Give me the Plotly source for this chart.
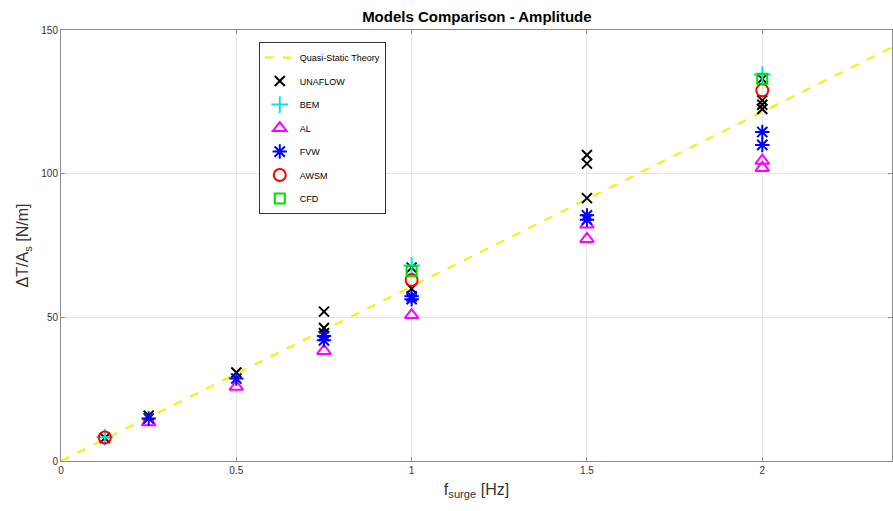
import plotly.graph_objects as go

# Quasi-static theory line endpoints
qs_f = [0.0, 2.37]
qs_val = [0.0, 144.0]

unaflow_f = [0.125, 0.25, 0.5, 0.75, 0.75, 0.75, 1.0, 1.0, 1.5, 1.5, 1.5, 2.0, 2.0, 2.0, 2.0]
unaflow_v = [8.0, 15.8, 30.8, 52.0, 46.3, 44.5, 67.3, 60.0, 106.5, 103.5, 91.5, 133.0, 125.5, 124.0, 122.5]

bem_f = [0.125, 1.0, 2.0]
bem_v = [8.3, 68.0, 134.5]

al_f = [0.25, 0.5, 0.75, 1.0, 1.5, 1.5, 2.0, 2.0]
al_v = [13.5, 25.8, 38.3, 50.8, 82.3, 77.3, 104.5, 102.0]

fvw_f = [0.25, 0.5, 0.75, 0.75, 1.0, 1.0, 1.5, 1.5, 2.0, 2.0]
fvw_v = [14.8, 28.7, 43.5, 42.0, 57.3, 56.3, 85.5, 84.0, 114.5, 110.0]

awsm_f = [0.125, 1.0, 2.0]
awsm_v = [8.2, 63.0, 129.0]

cfd_f = [1.0, 2.0]
cfd_v = [66.0, 133.0]

fig = go.Figure()
fig.add_trace(go.Scatter(x=qs_f, y=qs_val, mode="lines", name="Quasi-Static Theory",
                         line=dict(color="#F2F200", width=2, dash="dash"), legendgroup="a"))
marker_specs = [
    ("UNAFLOW", unaflow_f, unaflow_v, "x-thin-open", "#000000", 10),
    ("BEM", bem_f, bem_v, "cross-thin-open", "#00E5E5", 12),
    ("AL", al_f, al_v, "triangle-up-open", "#FF00FF", 12),
    ("FVW", fvw_f, fvw_v, "asterisk-open", "#0000FF", 12),
    ("AWSM", awsm_f, awsm_v, "circle-open", "#FF0000", 12),
    ("CFD", cfd_f, cfd_v, "square-open", "#00DD00", 10),
]
for i, (name, xs, ys, sym, col, sz) in enumerate(marker_specs):
    fig.add_trace(go.Scatter(x=xs, y=ys, mode="markers", name=name, legendgroup="g%d" % i,
                             marker=dict(symbol=sym, size=sz, color=col,
                                         line=dict(color=col, width=2))))

axis_common = dict(showline=True, linecolor="#8c8c8c", linewidth=1, mirror="ticks",
                   ticks="inside", ticklen=4, tickcolor="#8c8c8c",
                   showgrid=True, gridcolor="#e6e6e6", gridwidth=1, zeroline=False,
                   tickfont=dict(family="Liberation Sans, Arial", size=10, color="#333333"))

fig.update_layout(
    width=893, height=511,
    margin=dict(l=61, r=1, t=30, b=50),
    paper_bgcolor="white", plot_bgcolor="white",
    title=dict(text="<b>Models Comparison - Amplitude</b>", x=0.534, xanchor="center",
               y=0.977, yanchor="top",
               font=dict(family="Liberation Sans, Arial", size=15, color="#000000")),
    xaxis=dict(range=[0, 2.37], tickvals=[0, 0.5, 1, 1.5, 2], ticktext=["0", "0.5", "1", "1.5", "2"],
               title=dict(text="f<sub>surge</sub> [Hz]", standoff=8,
                          font=dict(family="Liberation Sans, Arial", size=16, color="#333333")),
               **axis_common),
    yaxis=dict(range=[0, 150], tickvals=[0, 50, 100, 150],
               title=dict(text="ΔT/A<sub>s</sub> [N/m]", standoff=8,
                          font=dict(family="Liberation Sans, Arial", size=16, color="#333333")),
               **axis_common),
    legend=dict(x=0.238, y=0.972, xanchor="left", yanchor="top",
                bgcolor="white", bordercolor="#333333", borderwidth=1,
                font=dict(family="Liberation Sans, Arial", size=9, color="#000000"),
                tracegroupgap=4.5),
    showlegend=True,
)

fig.write_html("out.html")
